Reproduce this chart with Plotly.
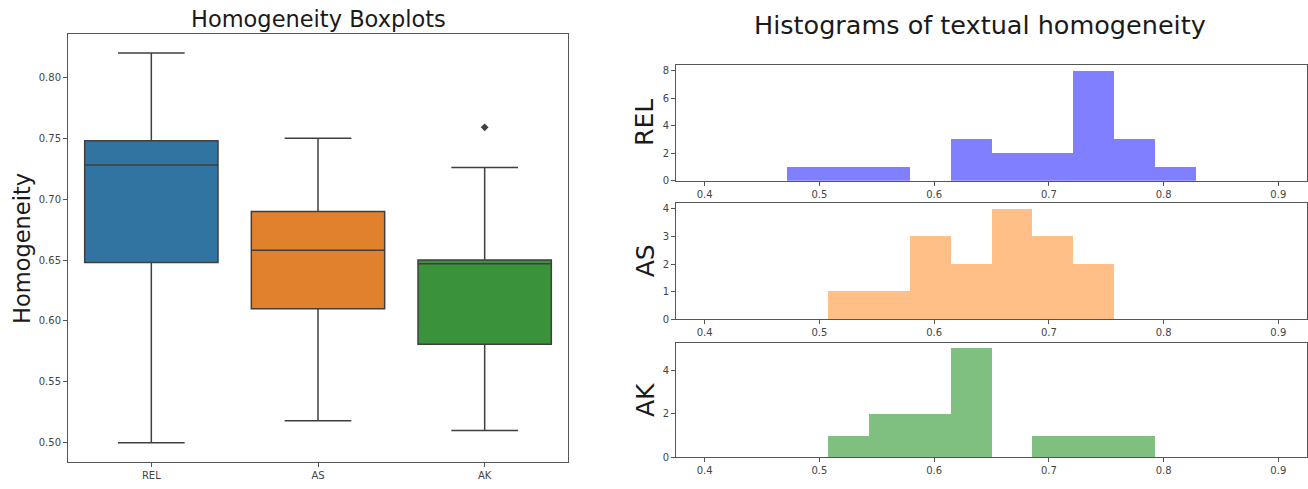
import plotly.graph_objects as go

# Box statistics per corpus
groups = ["REL", "AS", "AK"]
box_lower = [0.500, 0.518, 0.510]
box_q1 = [0.648, 0.610, 0.581]
box_median = [0.728, 0.658, 0.647]
box_q3 = [0.748, 0.690, 0.650]
box_upper = [0.820, 0.750, 0.726]
box_colors = ["#3274a1", "#e1812c", "#3a923a"]
outlier_group = ["AK"]
outlier_value = [0.759]

# Histogram counts (14 equal bins spanning 0.4 - 0.9)
bin_start = 0.4
bin_stop = 0.9
rel_counts = [0, 0, 1, 1, 1, 0, 3, 2, 2, 8, 3, 1, 0, 0]
as_counts = [0, 0, 0, 1, 1, 3, 2, 4, 3, 2, 0, 0, 0, 0]
ak_counts = [0, 0, 0, 1, 2, 2, 5, 0, 1, 1, 1, 0, 0, 0]
hist_colors = ["rgba(0,0,255,0.5)", "rgba(255,127,14,0.5)", "rgba(0,128,0,0.5)"]
hist_yticks = [[0, 2, 4, 6, 8], [0, 1, 2, 3, 4], [0, 2, 4]]
hist_x_ticks = [0.4, 0.5, 0.6, 0.7, 0.8, 0.9]

W, H = 1308, 489
px = lambda v: v / W
py = lambda v: 1 - v / H

fig = go.Figure()

line_col = "#3f3f3f"
for g, lo, q1, med, q3, hi, col in zip(groups, box_lower, box_q1, box_median,
                                       box_q3, box_upper, box_colors):
    fig.add_trace(go.Box(
        x=[g], q1=[q1], median=[med], q3=[q3], lowerfence=[lo], upperfence=[hi],
        fillcolor=col, line=dict(color=line_col, width=1.5), width=0.8,
        whiskerwidth=0.5, boxpoints=False, showlegend=False,
        xaxis="x", yaxis="y", hoverinfo="y",
    ))

fig.add_trace(go.Scatter(
    x=outlier_group, y=outlier_value, mode="markers",
    marker=dict(symbol="diamond", size=6, color=line_col),
    showlegend=False, xaxis="x", yaxis="y",
))

nbins = len(rel_counts)
bw = (bin_stop - bin_start) / nbins
centers = [bin_start + bw * (i + 0.5) for i in range(nbins)]

for k, (counts, col) in enumerate(zip([rel_counts, as_counts, ak_counts], hist_colors)):
    fig.add_trace(go.Bar(
        x=centers, y=counts, width=[bw] * nbins, marker=dict(color=col, line=dict(width=0)),
        showlegend=False, xaxis=f"x{k + 2}", yaxis=f"y{k + 2}",
    ))

tick_font = dict(family="DejaVu Sans", size=10, color="#444444")
frame = dict(showline=True, linecolor="#555555", linewidth=1, mirror=True,
             ticks="outside", ticklen=4, tickcolor="#555555", showgrid=False,
             zeroline=False, tickfont=tick_font)

layout = dict(
    width=W, height=H, margin=dict(l=0, r=0, t=0, b=0),
    plot_bgcolor="white", paper_bgcolor="white",
    bargap=0, boxgap=0.2, boxgroupgap=0, boxmode="overlay",
    xaxis=dict(domain=[px(68), px(568)], type="category", range=[-0.5, 2.5],
               anchor="y", **frame),
    yaxis=dict(domain=[py(468), py(34)], range=[0.484, 0.836],
               tickvals=[0.50, 0.55, 0.60, 0.65, 0.70, 0.75, 0.80],
               tickformat=".2f", anchor="x", **frame),
)

hist_rows = [(66, 183), (206, 323), (347, 463)]
hist_ranges = [[0, 8.4], [0, 4.2], [0, 5.25]]
for k, ((top, bot), yr, yt) in enumerate(zip(hist_rows, hist_ranges, hist_yticks)):
    layout[f"xaxis{k + 2}"] = dict(domain=[px(676), px(1307)], range=[0.375, 0.925],
                                   tickvals=hist_x_ticks, tickformat=".1f",
                                   anchor=f"y{k + 2}", **frame)
    layout[f"yaxis{k + 2}"] = dict(domain=[py(bot), py(top)], range=yr, tickvals=yt,
                                   anchor=f"x{k + 2}", **frame)

fig.update_layout(**layout)

title_font = dict(family="DejaVu Sans", color="#1a1a1a")
annotations = [
    dict(text="Homogeneity Boxplots", x=px(318), y=py(19), font=dict(size=22.5, **title_font)),
    dict(text="Histograms of textual homogeneity", x=px(980), y=py(25),
         font=dict(size=25.5, **title_font)),
    dict(text="Homogeneity", x=px(22), y=py(252), textangle=-90,
         font=dict(size=22.5, **title_font)),
]
for name, (top, bot) in zip(groups, hist_rows):
    annotations.append(dict(text=name, x=px(645), y=py((top + bot) / 2), textangle=-90,
                            font=dict(size=25, **title_font)))
for a in annotations:
    a.update(xref="paper", yref="paper", showarrow=False, xanchor="center", yanchor="middle")
fig.update_layout(annotations=annotations)

fig.write_html("out.html")
